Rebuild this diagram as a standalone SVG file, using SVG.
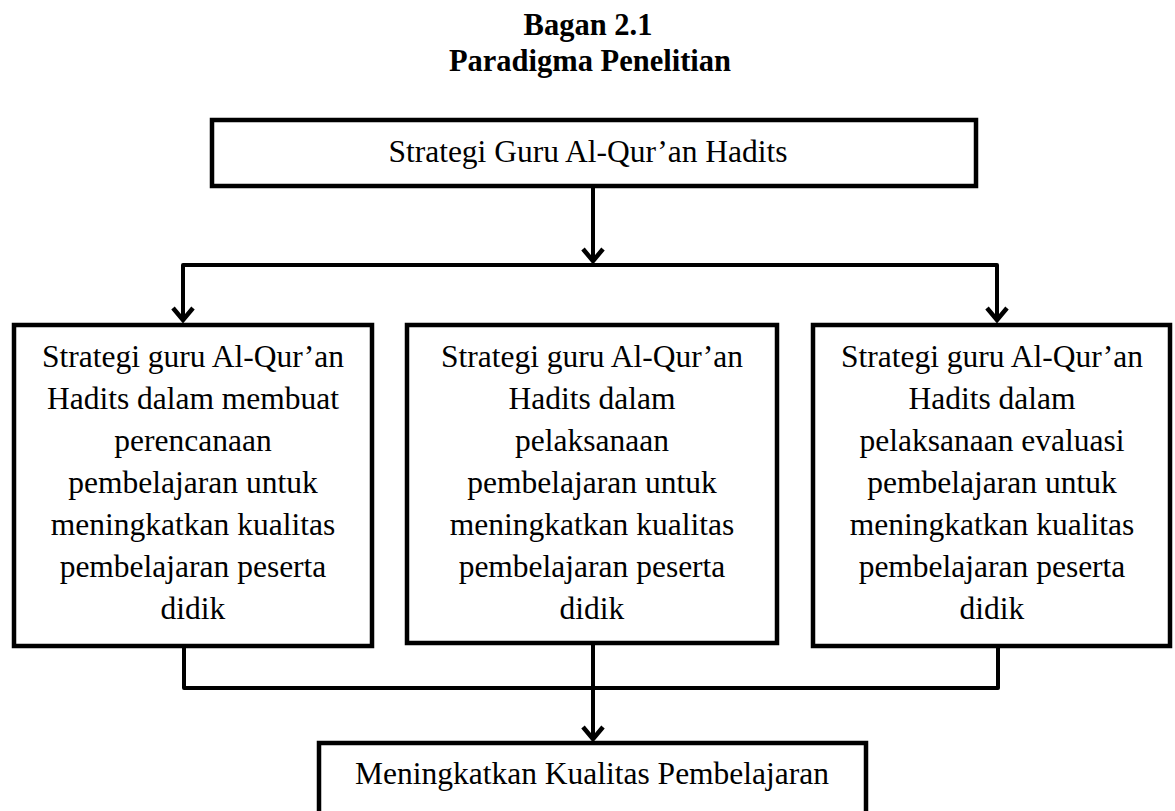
<svg xmlns="http://www.w3.org/2000/svg" width="1175" height="811" viewBox="0 0 1175 811">
<style>
.t{font-family:"Liberation Serif","Times New Roman",serif;font-size:31.5px;fill:#000;text-anchor:middle}
.h{font-family:"Liberation Serif","Times New Roman",serif;font-size:30.5px;font-weight:bold;fill:#000;text-anchor:middle}
.box{fill:#fff;stroke:#000;stroke-width:4.5}
.ln{fill:none;stroke:#000;stroke-width:4;stroke-linejoin:round}
</style>
<defs>
<marker id="arr" markerUnits="userSpaceOnUse" markerWidth="30" markerHeight="30" viewBox="-15 -15 30 30" refX="0" refY="0" orient="auto">
<path d="M-12,-10 L0,0 L-12,10" fill="none" stroke="#000" stroke-width="4.5" stroke-linejoin="miter"/>
</marker>
</defs>
<rect width="1175" height="811" fill="#fff"/>
<text class="h" x="588" y="35">Bagan 2.1</text>
<text class="h" x="590" y="71">Paradigma Penelitian</text>
<g id="connectors">
<path class="ln" d="M593,186 V261" marker-end="url(#arr)"/>
<path class="ln" d="M183,320 V265 H997 V320" />
<path class="ln" d="M183,265 V320" marker-end="url(#arr)"/>
<path class="ln" d="M997,265 V320" marker-end="url(#arr)"/>
<path class="ln" d="M184,645 V688 H998 V645"/>
<path class="ln" d="M593,643 V739" marker-end="url(#arr)"/>
</g>
<g id="top">
<rect class="box" x="212" y="120" width="764" height="66"/>
<text class="t" x="588" y="162">Strategi Guru Al-Qur’an Hadits</text>
</g>
<g id="left">
<rect class="box" x="14" y="325" width="358" height="321"/>
<text class="t" x="193"><tspan x="193" y="367">Strategi guru Al-Qur’an</tspan><tspan x="193" y="409">Hadits dalam membuat</tspan><tspan x="193" y="451">perencanaan</tspan><tspan x="193" y="493">pembelajaran untuk</tspan><tspan x="193" y="535">meningkatkan kualitas</tspan><tspan x="193" y="577">pembelajaran peserta</tspan><tspan x="193" y="619">didik</tspan></text>
</g>
<g id="middle">
<rect class="box" x="407" y="325" width="370" height="318"/>
<text class="t" x="592"><tspan x="592" y="367">Strategi guru Al-Qur’an</tspan><tspan x="592" y="409">Hadits dalam</tspan><tspan x="592" y="451">pelaksanaan</tspan><tspan x="592" y="493">pembelajaran untuk</tspan><tspan x="592" y="535">meningkatkan kualitas</tspan><tspan x="592" y="577">pembelajaran peserta</tspan><tspan x="592" y="619">didik</tspan></text>
</g>
<g id="right">
<rect class="box" x="813" y="325" width="357" height="321"/>
<text class="t" x="992"><tspan x="992" y="367">Strategi guru Al-Qur’an</tspan><tspan x="992" y="409">Hadits dalam</tspan><tspan x="992" y="451">pelaksanaan evaluasi</tspan><tspan x="992" y="493">pembelajaran untuk</tspan><tspan x="992" y="535">meningkatkan kualitas</tspan><tspan x="992" y="577">pembelajaran peserta</tspan><tspan x="992" y="619">didik</tspan></text>
</g>
<g id="bottom">
<path class="box" d="M319,815 V743 H866 V815"/>
<text class="t" x="592" y="784">Meningkatkan Kualitas Pembelajaran</text>
</g>
</svg>
